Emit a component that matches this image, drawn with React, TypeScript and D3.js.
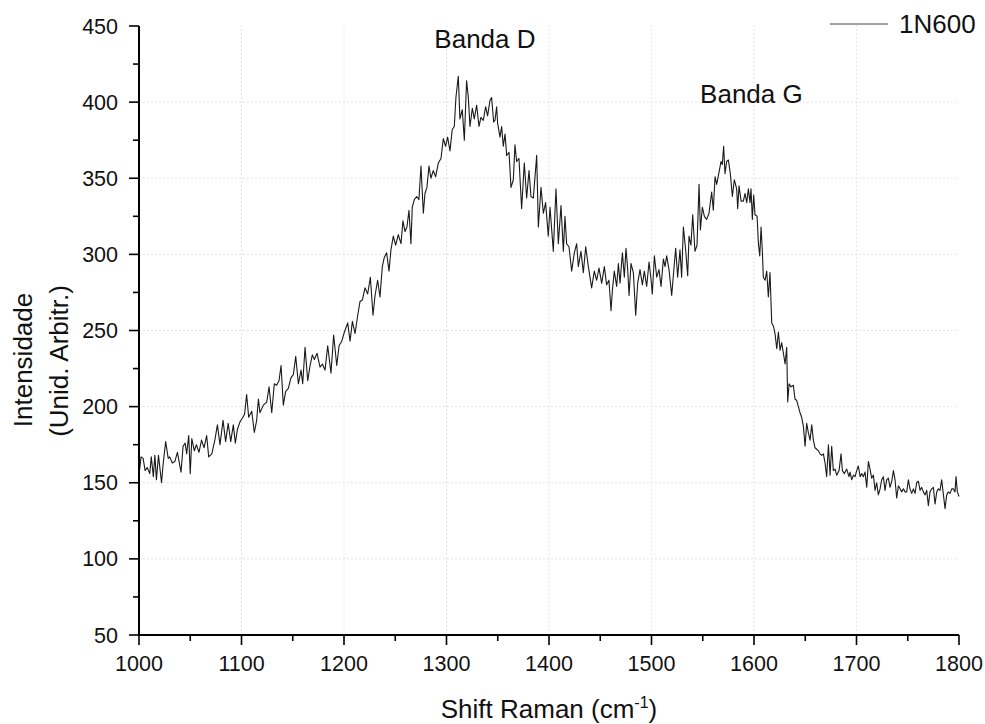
import React from "react";
import * as d3 from "d3";

const ramanShift: number[] = [
  1000, 1002, 1004, 1006, 1008, 1010.5, 1012, 1014, 1015.5, 1017, 1019, 1022, 1023.5, 1026, 1028.5, 1030, 1032.5, 1035, 1037.5, 1041,
  1043, 1045, 1046.5, 1048.5, 1050, 1051.5, 1054, 1056, 1058.5, 1061, 1063.5, 1066, 1068, 1071, 1074, 1076.5, 1079, 1082, 1084.5, 1087,
  1089.5, 1092, 1094, 1096, 1098.5, 1100.5, 1103, 1105, 1107, 1110, 1112.5,
  1114.8, 1116.5, 1118, 1121.3, 1124.6, 1126.9, 1129.5, 1132, 1134.3, 1136.6, 1138.6, 1140.8, 1143.1, 1145.7, 1148.3, 1150.6, 1152.9, 1155.5, 1158.1, 1159.7,
  1162, 1164.6, 1166.9, 1169.1, 1171.1, 1173.7, 1176.6, 1178.9, 1181.5, 1184.1, 1187.3, 1189.9, 1192.9, 1195.2, 1197.8, 1200.4, 1203.6, 1205.9, 1208.2, 1210.8,
  1213.4, 1215.6, 1217.9, 1220.5, 1223.1, 1225.7, 1228.3, 1230.3,
  1232.8, 1235.1, 1237.4, 1239.3, 1241.6, 1243.9, 1245.8, 1248.1, 1250.4, 1253, 1255.6, 1257.5, 1259.5, 1261.4, 1263.4, 1265.3, 1266.6, 1268.6, 1270.9, 1273.1,
  1275.1, 1277.4, 1279, 1280.9, 1282.9, 1284.8, 1287.1, 1289.4, 1292, 1294.6, 1296.9, 1299.1, 1301.1, 1303.4, 1305.6, 1307.6, 1309.2, 1311.5, 1313.1, 1315.4,
  1317.4, 1319.6, 1321.3, 1322.9, 1325.2, 1327.1, 1329.4, 1331.7, 1333.6, 1335.9, 1338.2, 1340.1, 1342.4, 1344, 1346,
  1347.3, 1348.9, 1349.9, 1352.2, 1353.8, 1355.4, 1357.1, 1358.7, 1361, 1362.9, 1365.2, 1366.8, 1368.4, 1370.7, 1373.3, 1375.9, 1378.2, 1380.5, 1382.4, 1384.7,
  1388, 1389.6, 1392.2, 1394.5, 1396.7, 1399.3, 1401, 1404.2, 1406.8, 1409.1, 1411.7, 1414, 1415.6, 1417.2, 1419.5, 1422.1, 1424.7, 1427, 1428.6, 1431.2,
  1433.5, 1435.8, 1438.4, 1441.6, 1444.2, 1446.5, 1448.8, 1451.4, 1454, 1456.2, 1458.5, 1460.5, 1461.8, 1463.7,
  1466, 1467.7, 1469.3, 1471.6, 1473.5, 1475.1, 1476.8, 1478.1, 1480, 1482.3, 1484.6, 1486.5, 1488.8, 1491.1, 1493, 1495.3, 1497.6, 1499.5, 1500.8, 1502.8,
  1505.1, 1507.3, 1509.3, 1511.6, 1513.2, 1514.8, 1517.1, 1519.7, 1522.3, 1523.6, 1525.5, 1527.8, 1529.4, 1531.1, 1533.3, 1535.3, 1536.6, 1538.5, 1540.2, 1542.4,
  1544.4, 1546.4, 1547.7, 1549.6, 1551.6, 1553.8, 1556.1, 1558.7, 1560.3, 1562, 1563.6, 1565.9, 1567.8, 1569.1, 1570.4, 1571.7, 1573.3, 1575, 1576.9, 1578.9, 1580.8,
  1583.1, 1584.1, 1585.4, 1587.4, 1589.6, 1591.3, 1592.9, 1594.5, 1596.1, 1597.1, 1598.4, 1599.7, 1601, 1603, 1604.3, 1605.6, 1606.9, 1608.2, 1609.1, 1610.8,
  1612.4, 1614, 1615.6, 1617.3, 1618.9, 1620.5, 1622.2, 1623.8, 1625.4, 1627, 1628.7, 1630.3, 1631.9, 1632.9, 1634.2, 1636.1, 1638.4, 1640, 1641.7, 1643.3,
  1644.9, 1646.5, 1648.2, 1649.8, 1651.4, 1653, 1654.7, 1656.3, 1657.9, 1659.5, 1661.2, 1662.8, 1664.4, 1666.1, 1667.7, 1669.3, 1670.9, 1672.6, 1674.2, 1675.8,
  1677.4, 1679.1, 1680.7, 1683, 1684.9, 1686.2, 1688.2, 1690.4, 1692.7,
  1693.7, 1695.3, 1697, 1698.6, 1700.2, 1701.8, 1703.5, 1705.1, 1706.7, 1708.3, 1710, 1711.6, 1713.2, 1714.8, 1716.5, 1718.1, 1719.7, 1721.3, 1723, 1724.6,
  1726.2, 1727.8, 1729.5, 1731.1, 1732.7, 1734.4, 1736, 1737.6, 1739.2, 1740.9, 1742.5, 1744.1, 1745.7, 1747.4, 1749, 1750.6, 1752.2, 1753.9, 1755.5, 1757.1,
  1758.7, 1760.4, 1762, 1763.6, 1765.2, 1766.9, 1768.5, 1770.1, 1771.7, 1773.4, 1775, 1776.6, 1778.3, 1779.9, 1781.5, 1783.1, 1784.8, 1786.4, 1788, 1789.6,
  1791.3, 1792.9, 1794.5, 1796.1, 1797.1, 1798.4, 1800,
];

const intensity: number[] = [
  155, 167, 166, 158, 160, 156, 167, 154, 168, 152, 168, 150, 162, 177, 166, 167, 163, 164, 170, 157,
  174, 176, 169, 181, 156, 179, 171, 175, 170, 178, 173, 181, 167, 169, 178, 188, 175, 191, 177, 189,
  177, 188, 176, 185, 190, 192, 195, 208, 193, 197, 183,
  191, 205, 196, 201, 203, 213, 196, 215, 214, 217, 227, 201, 210, 212, 219, 221, 233, 215, 224, 215,
  239, 217, 227, 234, 231, 235, 226, 228, 224, 240, 222, 247, 227, 240, 243, 249, 255, 243, 256, 248,
  260, 269, 270, 278, 274, 285, 260, 273,
  283, 272, 292, 298, 301, 289, 303, 312, 306, 313, 307, 322, 315, 318, 329, 307, 331, 336, 338, 336,
  358, 327, 340, 344, 358, 350, 355, 351, 360, 363, 376, 371, 377, 368, 382, 384, 403, 417, 389, 395,
  375, 414, 403, 384, 396, 389, 398, 384, 390, 388, 397, 391, 401, 403, 387,
  388, 397, 386, 377, 384, 371, 379, 365, 367, 344, 349, 372, 361, 363, 330, 360, 337, 355, 338, 337,
  365, 318, 344, 327, 334, 312, 331, 302, 343, 307, 332, 302, 325, 307, 305, 289, 301, 307, 292, 302,
  288, 305, 292, 278, 289, 283, 291, 281, 292, 280, 283, 263, 276, 289,
  279, 294, 281, 301, 285, 304, 290, 273, 294, 288, 260, 281, 290, 280, 289, 279, 295, 284, 274, 299,
  285, 290, 279, 297, 292, 299, 290, 273, 294, 304, 285, 303, 285, 318, 303, 286, 312, 306, 326, 302,
  306, 346, 316, 331, 325, 323, 327, 341, 329, 351, 346, 354, 361, 359, 371, 353, 361, 362, 353, 338, 349,
  343, 330, 345, 335, 335, 340, 334, 343, 334, 343, 323, 339, 326, 325, 307, 299, 318, 301, 285, 283,
  289, 272, 288, 255, 253, 248, 238, 249, 237, 242, 235, 228, 239, 203, 215, 213, 214, 205, 204, 200,
  196, 193, 187, 174, 189, 183, 178, 188, 178, 173, 172, 171, 169, 168, 169, 163, 154, 175, 155, 174,
  158, 159, 155, 158, 169, 158, 156, 159, 154,
  157, 152, 155, 154, 158, 161, 154, 156, 154, 157, 147, 164, 159, 153, 155, 145, 150, 142, 146, 152,
  154, 145, 152, 153, 147, 151, 158, 152, 140, 148, 146, 144, 146, 144, 144, 152, 146, 143, 146, 143,
  150, 151, 145, 147, 144, 142, 145, 135, 144, 146, 147, 136, 144, 146, 145, 152, 142, 133, 142, 144,
  143, 146, 146, 144, 154, 144, 141,
];

const xTicks = [1000, 1100, 1200, 1300, 1400, 1500, 1600, 1700, 1800];
const xMinorTicks = [1050, 1150, 1250, 1350, 1450, 1550, 1650, 1750];
const yTicks = [50, 100, 150, 200, 250, 300, 350, 400, 450];
const yMinorTicks = [75, 125, 175, 225, 275, 325, 375, 425];
const xGrid = [1100, 1200, 1300, 1400, 1500, 1600, 1700];
const yGrid = [100, 150, 200, 250, 300, 350, 400];

const seriesName = "1N600";
const annotations = [
  { label: "Banda D", shift: 1337.5, value: 435.5 },
  { label: "Banda G", shift: 1597.5, value: 399.5 },
];

const FONT = "'Liberation Sans', Arial, Helvetica, sans-serif";

export default function App() {
  const W = 985;
  const H = 724;
  const x = d3.scaleLinear().domain([1000, 1800]).range([139, 959]);
  const y = d3.scaleLinear().domain([50, 450]).range([635, 26]);

  const points = ramanShift.map((s, i) => [s, intensity[i]] as [number, number]);
  const line = d3
    .line<[number, number]>()
    .x((d) => x(d[0]))
    .y((d) => y(d[1]));

  const x0 = x.range()[0];
  const x1 = x.range()[1];
  const y0 = y.range()[0];
  const y1 = y.range()[1];

  return (
    <div style={{ position: "absolute", left: 0, top: 0, width: W, height: H, background: "#fff" }}>
      <svg width={W} height={H} style={{ display: "block" }} fontFamily={FONT}>
        <rect x={0} y={0} width={W} height={H} fill="#fff" />
        {xGrid.map((v) => (
          <line key={"gx" + v} x1={x(v)} x2={x(v)} y1={y0} y2={y1} stroke="#dcdcdc" strokeWidth={1} strokeDasharray="1.5,2.5" />
        ))}
        {yGrid.map((v) => (
          <line key={"gy" + v} x1={x0} x2={x1} y1={y(v)} y2={y(v)} stroke="#dcdcdc" strokeWidth={1} strokeDasharray="1.5,2.5" />
        ))}
        <path d={line(points) || ""} fill="none" stroke="#1a1a1a" strokeWidth={1.1} strokeLinejoin="round" />
        <line x1={x0} x2={x1} y1={y0} y2={y0} stroke="#000" strokeWidth={2} />
        <line x1={x0} x2={x0} y1={y0 + 1} y2={y1} stroke="#000" strokeWidth={2} />
        {xTicks.map((v) => (
          <g key={"xt" + v}>
            <line x1={x(v)} x2={x(v)} y1={y0} y2={y0 + 10} stroke="#000" strokeWidth={1.6} />
            <text x={x(v)} y={y0 + 36} textAnchor="middle" fontSize={21.5} fill="#111">
              {v}
            </text>
          </g>
        ))}
        {xMinorTicks.map((v) => (
          <line key={"xm" + v} x1={x(v)} x2={x(v)} y1={y0} y2={y0 + 6} stroke="#000" strokeWidth={1.6} />
        ))}
        {yTicks.map((v) => (
          <g key={"yt" + v}>
            <line x1={x0} x2={x0 - 10} y1={y(v)} y2={y(v)} stroke="#000" strokeWidth={1.6} />
            <text x={x0 - 21} y={y(v) + 7.5} textAnchor="end" fontSize={21.5} fill="#111">
              {v}
            </text>
          </g>
        ))}
        {yMinorTicks.map((v) => (
          <line key={"ym" + v} x1={x0} x2={x0 - 6} y1={y(v)} y2={y(v)} stroke="#000" strokeWidth={1.6} />
        ))}
        <text x={(x0 + x1) / 2} y={718} textAnchor="middle" fontSize={26} fill="#111">
          Shift Raman (cm
          <tspan fontSize={16} dy={-10}>-1</tspan>
          <tspan dy={10}>)</tspan>
        </text>
        <text transform="translate(32,360) rotate(-90)" textAnchor="middle" fontSize={26} fill="#111">
          Intensidade
        </text>
        <text transform="translate(68,361) rotate(-90)" textAnchor="middle" fontSize={26} fill="#111">
          (Unid. Arbitr.)
        </text>
        {annotations.map((a) => (
          <text key={a.label} x={x(a.shift)} y={y(a.value)} textAnchor="middle" fontSize={26} fill="#111">
            {a.label}
          </text>
        ))}
        <line x1={830} x2={888} y1={24} y2={24} stroke="#444" strokeWidth={1} />
        <text x={899} y={33} fontSize={26} fill="#111">
          {seriesName}
        </text>
      </svg>
    </div>
  );
}
